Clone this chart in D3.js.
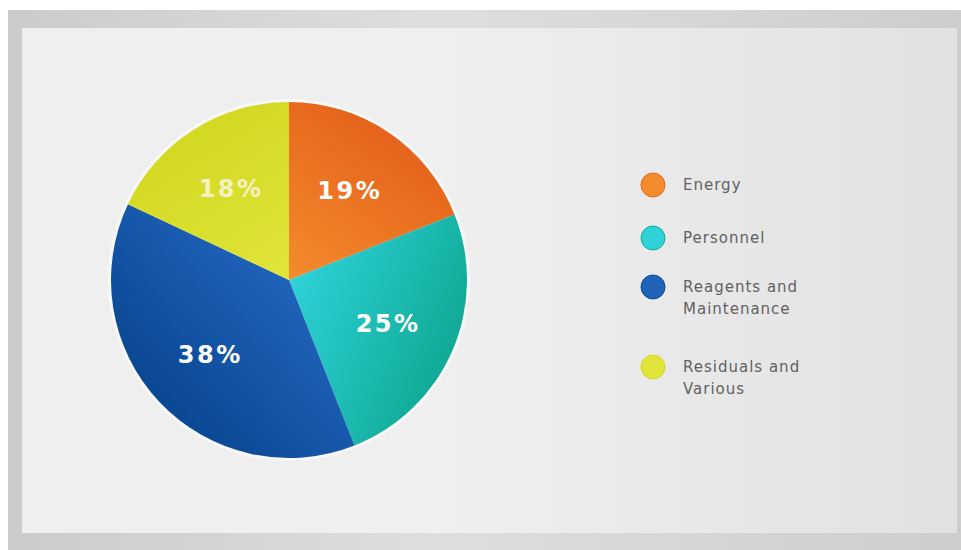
<!DOCTYPE html>
<html>
<head>
<meta charset="utf-8">
<script src="https://cdn.jsdelivr.net/npm/d3@7"></script>
<style>
  html, body { margin: 0; padding: 0; background: #fff; }
  svg { display: block; }
</style>
</head>
<body>
<svg id="chart" width="961" height="550"></svg>
<script>
// data
var categories = ['Energy', 'Personnel', 'Reagents and Maintenance', 'Residuals and Various'];
var legendLines = [['Energy'], ['Personnel'], ['Reagents and', 'Maintenance'], ['Residuals and', 'Various']];
var values = [19, 25, 38, 18];
var colorsLight = ['#f38c2c', '#2ed2d8', '#1f63ba', '#e0e53a'];
var colorsDark = ['#e6641c', '#11ab98', '#0b4894', '#d3d923'];
var labelColors = ['#fff', '#fff', '#fff', '#f3f2c4'];

var svg = d3.select('#chart');
var defs = svg.append('defs');

// frame + panel background
var bg = defs.append('linearGradient').attr('id', 'panel').attr('x1', 0).attr('x2', 1).attr('y1', 0).attr('y2', 0);
bg.append('stop').attr('offset', 0).attr('stop-color', '#efefef');
bg.append('stop').attr('offset', 0.45).attr('stop-color', '#efefef');
bg.append('stop').attr('offset', 1).attr('stop-color', '#e1e1e1');
var fr = defs.append('linearGradient').attr('id', 'frame').attr('x1', 0).attr('x2', 1).attr('y1', 0).attr('y2', 0);
fr.append('stop').attr('offset', 0).attr('stop-color', '#cbcbcb');
fr.append('stop').attr('offset', 0.45).attr('stop-color', '#dedede');
fr.append('stop').attr('offset', 1).attr('stop-color', '#cdcdcd');
svg.append('rect').attr('x', 8).attr('y', 10).attr('width', 953).attr('height', 540).attr('fill', 'url(#frame)');
svg.append('rect').attr('x', 22).attr('y', 28).attr('width', 935).attr('height', 505).attr('fill', 'url(#panel)');

// pie
var cx = 289, cy = 280, R = 178;
var pie = d3.pie().sort(null).value(function (d) { return d; });
var arcs = pie(values);
var arc = d3.arc().innerRadius(0).outerRadius(R);
var labelArc = d3.arc().innerRadius(108).outerRadius(108);

var g = svg.append('g').attr('transform', 'translate(' + cx + ',' + cy + ')');
g.append('circle').attr('r', R + 3).attr('fill', '#fafafa').attr('opacity', 0.8);

arcs.forEach(function (a, i) {
  var c = labelArc.centroid(a);
  var gr = defs.append('linearGradient').attr('id', 'sl' + i).attr('gradientUnits', 'userSpaceOnUse')
    .attr('x1', 0).attr('y1', 0).attr('x2', c[0] * 1.6).attr('y2', c[1] * 1.6);
  gr.append('stop').attr('offset', 0).attr('stop-color', colorsLight[i]);
  gr.append('stop').attr('offset', 1).attr('stop-color', colorsDark[i]);
});

g.selectAll('path.slice').data(arcs).enter().append('path')
  .attr('class', 'slice')
  .attr('d', arc)
  .attr('fill', function (d, i) { return 'url(#sl' + i + ')'; });

g.selectAll('text.pct').data(arcs).enter().append('text')
  .attr('class', 'pct')
  .attr('transform', function (d) { return 'translate(' + labelArc.centroid(d) + ')'; })
  .attr('text-anchor', 'middle').attr('dy', '0.36em')
  .attr('font-family', 'DejaVu Sans, sans-serif').attr('font-weight', 'bold')
  .attr('font-size', 24).attr('letter-spacing', 2.5)
  .attr('fill', function (d, i) { return labelColors[i]; })
  .text(function (d) { return d.data + '%'; });

// legend
var legendY = [185, 238, 287, 367];
var lg = svg.append('g');
var items = lg.selectAll('g').data(categories).enter().append('g')
  .attr('transform', function (d, i) { return 'translate(653,' + legendY[i] + ')'; });
items.append('circle').attr('r', 12).attr('fill', function (d, i) { return colorsLight[i]; })
  .attr('stroke', function (d, i) { return colorsDark[i]; }).attr('stroke-width', 1);
items.append('text')
  .attr('x', 30).attr('y', 5)
  .attr('font-family', 'DejaVu Sans, sans-serif').attr('font-size', 15)
  .attr('letter-spacing', 1).attr('fill', '#616161')
  .each(function (d, i) {
    var t = d3.select(this);
    legendLines[i].forEach(function (line, k) {
      t.append('tspan').attr('x', 30).attr('dy', k === 0 ? 0 : 22).text(line);
    });
  });
</script>
</body>
</html>
